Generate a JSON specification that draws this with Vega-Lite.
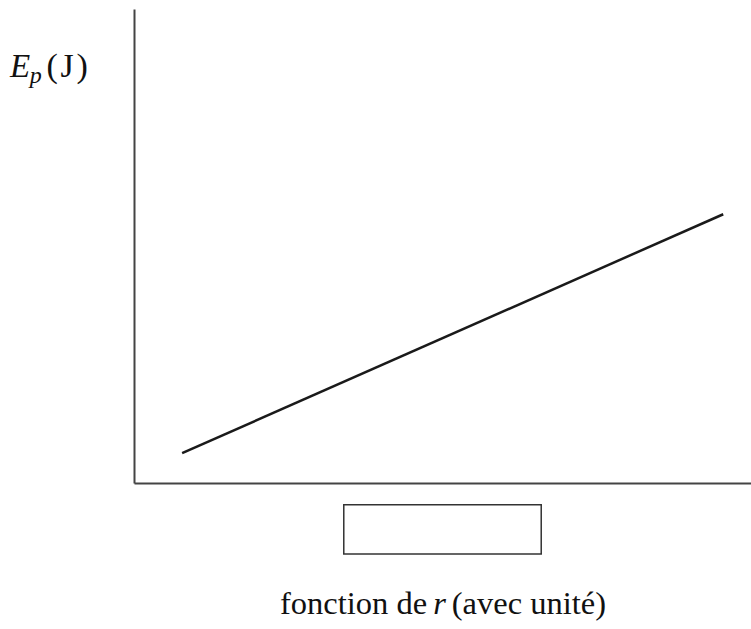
{
  "$schema": "https://vega.github.io/schema/vega-lite/v6.json",
  "width": 617,
  "height": 474,
  "autosize": {"type": "none"},
  "padding": {"left": 134, "top": 9, "right": 0, "bottom": 146},
  "background": "white",
  "config": {
    "view": {"stroke": null},
    "axis": {"title": null, "labels": false, "ticks": false, "grid": false, "domainColor": "#444", "domainWidth": 2},
    "text": {"font": "'Liberation Serif', 'Times New Roman', serif"}
  },
  "layer": [
    {
      "data": {"values": [{"r": 7.8, "Ep": 6.3}, {"r": 95.5, "Ep": 56.7}]},
      "mark": {"type": "line", "color": "#1a1a1a", "strokeWidth": 2.5, "clip": false},
      "encoding": {
        "x": {"field": "r", "type": "quantitative", "scale": {"domain": [0, 100], "nice": false, "zero": false}, "axis": {"title": null}},
        "y": {"field": "Ep", "type": "quantitative", "scale": {"domain": [0, 100], "nice": false, "zero": false}, "axis": {"title": null}}
      }
    },
    {
      "data": {"values": [{"r": 34, "r2": 66, "Ep": -4.6, "Ep2": -15}]},
      "mark": {"type": "rect", "fill": "white", "stroke": "#333", "strokeWidth": 1.5},
      "encoding": {
        "x": {"field": "r", "type": "quantitative", "axis": {"title": null}},
        "x2": {"field": "r2"},
        "y": {"field": "Ep", "type": "quantitative", "axis": {"title": null}},
        "y2": {"field": "Ep2"}
      }
    },
    {
      "data": {"values": [{"r": -20.1, "Ep": 85.6, "t": "E"}]},
      "mark": {"type": "text", "font": "'Liberation Serif', serif", "fontStyle": "italic", "fontSize": 33, "align": "left", "baseline": "alphabetic", "color": "#111"},
      "encoding": {
        "x": {"field": "r", "type": "quantitative", "axis": {"title": null}},
        "y": {"field": "Ep", "type": "quantitative", "axis": {"title": null}},
        "text": {"field": "t"}
      }
    },
    {
      "data": {"values": [{"r": -16.9, "Ep": 84.4, "t": "p"}]},
      "mark": {"type": "text", "font": "'Liberation Serif', serif", "fontStyle": "italic", "fontSize": 24, "align": "left", "baseline": "alphabetic", "color": "#111"},
      "encoding": {
        "x": {"field": "r", "type": "quantitative", "axis": {"title": null}},
        "y": {"field": "Ep", "type": "quantitative", "axis": {"title": null}},
        "text": {"field": "t"}
      }
    },
    {
      "data": {"values": [{"r": -14.2, "Ep": 85.6, "t": "(\u200aJ\u200a)"}]},
      "mark": {"type": "text", "font": "'Liberation Serif', serif", "fontSize": 34, "align": "left", "baseline": "alphabetic", "color": "#111"},
      "encoding": {
        "x": {"field": "r", "type": "quantitative", "axis": {"title": null}},
        "y": {"field": "Ep", "type": "quantitative", "axis": {"title": null}},
        "text": {"field": "t"}
      }
    },
    {
      "data": {"values": [{"r": 47.5, "Ep": -27.6, "t": "fonction de"}]},
      "mark": {"type": "text", "font": "'Liberation Serif', serif", "fontSize": 32.5, "align": "right", "baseline": "alphabetic", "color": "#111"},
      "encoding": {
        "x": {"field": "r", "type": "quantitative", "axis": {"title": null}},
        "y": {"field": "Ep", "type": "quantitative", "axis": {"title": null}},
        "text": {"field": "t"}
      }
    },
    {
      "data": {"values": [{"r": 48.5, "Ep": -27.6, "t": "r"}]},
      "mark": {"type": "text", "font": "'Liberation Serif', serif", "fontStyle": "italic", "fontSize": 32.5, "align": "left", "baseline": "alphabetic", "color": "#111"},
      "encoding": {
        "x": {"field": "r", "type": "quantitative", "axis": {"title": null}},
        "y": {"field": "Ep", "type": "quantitative", "axis": {"title": null}},
        "text": {"field": "t"}
      }
    },
    {
      "data": {"values": [{"r": 51.5, "Ep": -27.6, "t": "(avec unité)"}]},
      "mark": {"type": "text", "font": "'Liberation Serif', serif", "fontSize": 32.5, "align": "left", "baseline": "alphabetic", "color": "#111"},
      "encoding": {
        "x": {"field": "r", "type": "quantitative", "axis": {"title": null}},
        "y": {"field": "Ep", "type": "quantitative", "axis": {"title": null}},
        "text": {"field": "t"}
      }
    }
  ]
}
